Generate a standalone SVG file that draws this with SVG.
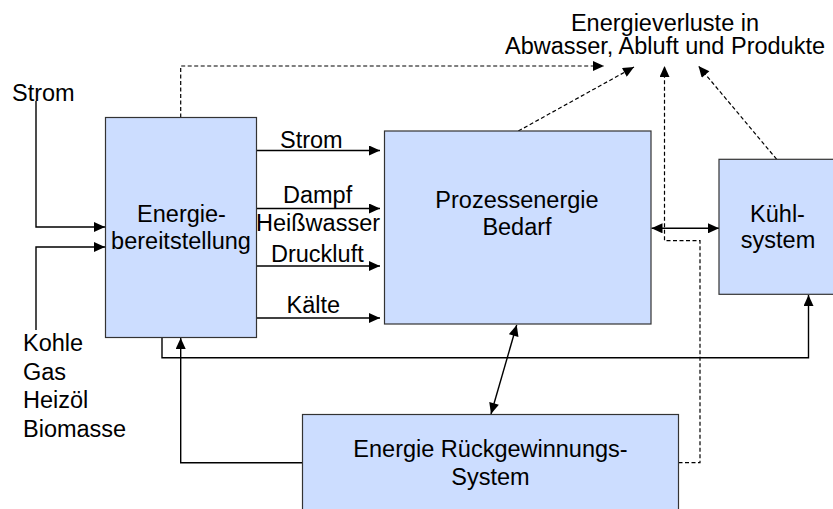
<svg xmlns="http://www.w3.org/2000/svg" width="833" height="509" viewBox="0 0 833 509">
<defs>
<style>
.box{fill:#CCDDFF;stroke:#333;stroke-width:1.2}
.t{font-family:"Liberation Sans",Arial,sans-serif;font-size:23.5px;fill:#000}
.c{text-anchor:middle}
.ln{fill:none;stroke:#000;stroke-width:1.4}
.ds{fill:none;stroke:#000;stroke-width:1.2;stroke-dasharray:4 2.5}
</style>
<marker id="ah" markerUnits="userSpaceOnUse" markerWidth="12" markerHeight="10" refX="11" refY="5" orient="auto-start-reverse" viewBox="0 0 11 10">
<path d="M0,0 L11,5 L0,10 z" fill="#000"/>
</marker>
</defs>
<rect width="833" height="509" fill="#fff"/>
<g id="connectors">
<path class="ln" d="M36,101 V227 H105" marker-end="url(#ah)"/>
<path class="ln" d="M36,330 V247 H105" marker-end="url(#ah)"/>
<path class="ln" d="M256.5,150.5 H380" marker-end="url(#ah)"/>
<path class="ln" d="M256.5,208.5 H380" marker-end="url(#ah)"/>
<path class="ln" d="M256.5,266 H380" marker-end="url(#ah)"/>
<path class="ln" d="M256.5,318 H380" marker-end="url(#ah)"/>
<path class="ln" d="M162,337.5 V357.7 H808.5 V295" marker-end="url(#ah)"/>
<path class="ln" d="M302.5,462.7 H180.7 V338" marker-end="url(#ah)"/>
<path class="ln" d="M516.7,325 L491,414" marker-start="url(#ah)" marker-end="url(#ah)"/>
<path class="ln" d="M651.5,228.3 H719" marker-start="url(#ah)" marker-end="url(#ah)"/>
<path class="ds" d="M180.7,117.5 V66 H604" marker-end="url(#ah)"/>
<path class="ds" d="M518.3,131 L634,67" marker-end="url(#ah)"/>
<path class="ds" d="M678.5,462.7 H700 V240.7 H664.5 V66" marker-end="url(#ah)"/>
<path class="ds" d="M776.7,159.3 L698.5,66" marker-end="url(#ah)"/>
</g>
<g id="energiebereitstellung">
<rect class="box" x="105.5" y="117.5" width="151" height="220"/>
<text class="t c" x="181.5" y="221.7">Energie-</text>
<text class="t c" x="181" y="249">bereitstellung</text>
</g>
<g id="prozessenergie">
<rect class="box" x="384.5" y="131" width="266.5" height="193"/>
<text class="t c" x="517" y="208.3">Prozessenergie</text>
<text class="t c" x="517" y="235">Bedarf</text>
</g>
<g id="kuehlsystem">
<rect class="box" x="719" y="159.3" width="118" height="135"/>
<text class="t c" x="777.5" y="221.7">Kühl-</text>
<text class="t c" x="778" y="248.3">system</text>
</g>
<g id="rueckgewinnung">
<rect class="box" x="302.5" y="414.5" width="376" height="100"/>
<text class="t c" x="490.5" y="457.3">Energie Rückgewinnungs-</text>
<text class="t c" x="490.5" y="485">System</text>
</g>
<g id="labels">
<text class="t" x="23" y="351">Kohle</text>
<text class="t" x="23" y="379.7">Gas</text>
<text class="t" x="23" y="408.3">Heizöl</text>
<text class="t" x="23" y="437">Biomasse</text>
<text class="t" x="12" y="100.7">Strom</text>
<text class="t" x="280" y="147.7">Strom</text>
<text class="t" x="283" y="203">Dampf</text>
<text class="t" x="256" y="230.7">Heißwasser</text>
<text class="t" x="271" y="261.7">Druckluft</text>
<text class="t" x="286.5" y="313.3">Kälte</text>
<text class="t c" x="665" y="30.5">Energieverluste in</text>
<text class="t c" x="665" y="54">Abwasser, Abluft und Produkte</text>
</g>
</svg>
